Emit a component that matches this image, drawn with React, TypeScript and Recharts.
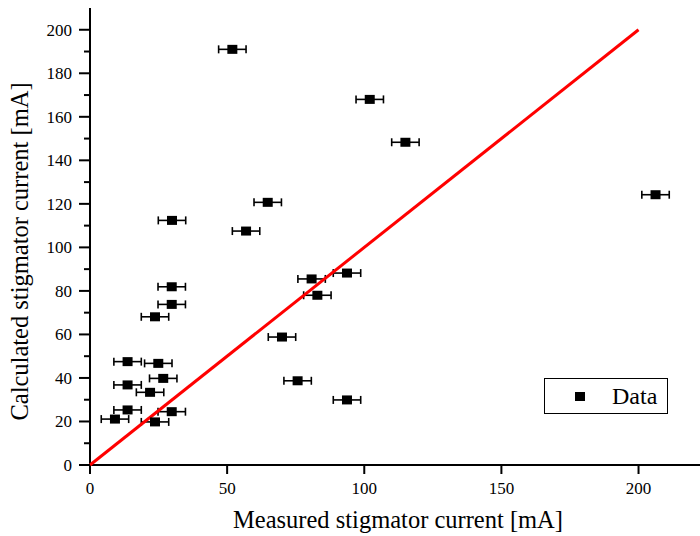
import {
  ScatterChart,
  Scatter,
  XAxis,
  YAxis,
  ErrorBar,
  Legend,
} from 'recharts';

const measured = [
  51.9, 102.0, 115.0, 206.2, 64.8, 29.9, 56.9, 29.8, 29.8, 23.7, 80.8, 82.9, 93.7,
  70.0, 13.7, 24.9, 13.7, 26.7, 21.9, 75.7, 93.7, 13.7, 9.1, 23.7, 29.8,
];
const calculated = [
  191.0, 168.0, 148.3, 124.2, 120.7, 112.4, 107.5, 81.9, 73.8, 68.1, 85.5, 78.0, 88.2,
  58.8, 47.5, 46.7, 36.8, 39.8, 33.4, 38.7, 29.9, 25.3, 21.1, 19.8, 24.5,
];
const measuredErr = [
  5, 5, 5, 5, 5, 5, 5, 5, 5, 5, 5, 5, 5, 5, 5, 5, 5, 5, 5, 5, 5, 5, 5, 5, 5,
];
const idealX = [0, 200];
const idealY = [0, 200];

const xTicks = [0, 50, 100, 150, 200];
const xTopTicks = [50, 100, 150, 200];
const yTicks = [0, 10, 20, 30, 40, 50, 60, 70, 80, 90, 100, 110, 120, 130, 140, 150, 160, 170, 180, 190, 200];
const yRightTicks = [20, 40, 60, 80, 100, 120, 140, 160, 180, 200];

const points = measured.map((x, i) => ({ x, y: calculated[i], err: measuredErr[i] }));
const ideal = idealX.map((x, i) => ({ x, y: idealY[i] }));

const FONT = '"Liberation Serif", serif';

function LeftTick(props: any) {
  const { x, y, payload } = props;
  const major = payload.value % 20 === 0;
  return (
    <g>
      <line x1={x - (major ? 11 : 6)} x2={x} y1={y} y2={y} stroke="#000" strokeWidth={2} />
      {major && (
        <text x={x - 18} y={y} dy={6} textAnchor="end" fontFamily={FONT} fontSize={17} fill="#000">
          {payload.value}
        </text>
      )}
    </g>
  );
}

function YTitle(props: any) {
  const { viewBox } = props;
  const cy = viewBox.y + viewBox.height / 2 + 15;
  return (
    <text
      x={28}
      y={cy}
      transform={`rotate(-90, 28, ${cy})`}
      textAnchor="middle"
      fontFamily={FONT}
      fontSize={24.5}
      fill="#000"
    >
      Calculated stigmator current [mA]
    </text>
  );
}

function Square(props: any) {
  const { cx, cy } = props;
  return <rect x={cx - 5} y={cy - 4.5} width={10} height={9} fill="#000" />;
}

function DataLegend() {
  return (
    <div
      style={{
        width: 124,
        height: 36,
        boxSizing: 'border-box',
        border: '1px solid #000',
        background: '#fff',
        position: 'relative',
        fontFamily: FONT,
      }}
    >
      <div style={{ position: 'absolute', left: 30, top: 13, width: 10, height: 9, background: '#000' }} />
      <div style={{ position: 'absolute', left: 67, top: 2, fontSize: 24, lineHeight: '30px', color: '#000' }}>Data</div>
    </div>
  );
}

export default function App() {
  return (
    <div style={{ position: 'absolute', left: 0, top: 0, width: 700, height: 536, overflow: 'hidden', background: '#fff' }}>
      <ScatterChart width={710} height={536} margin={{ top: 8, right: 4, bottom: 0, left: 0 }}>
        <XAxis
          type="number"
          dataKey="x"
          domain={[0, 224.6]}
          ticks={xTicks}
          height={71}
          tickSize={9}
          tickMargin={8}
          axisLine={{ stroke: '#000', strokeWidth: 2 }}
          tickLine={{ stroke: '#000', strokeWidth: 2 }}
          tick={{ fill: '#000', fontSize: 17, fontFamily: FONT }}
          label={{
            value: 'Measured stigmator current [mA]',
            position: 'insideBottom',
            offset: 8,
            fill: '#000',
            fontSize: 24.5,
            fontFamily: FONT,
          }}
        />
        <XAxis
          xAxisId="top"
          type="number"
          orientation="top"
          mirror
          domain={[0, 224.6]}
          ticks={xTopTicks}
          height={0}
          tickSize={9}
          tick={false}
          axisLine={{ stroke: '#000', strokeWidth: 2 }}
          tickLine={{ stroke: '#000', strokeWidth: 2 }}
        />
        <YAxis
          type="number"
          dataKey="y"
          domain={[0, 210]}
          ticks={yTicks}
          interval={0}
          width={90}
          tickSize={0}
          tickMargin={0}
          tickLine={false}
          axisLine={{ stroke: '#000', strokeWidth: 2 }}
          tick={<LeftTick />}
          label={<YTitle />}
        />
        <YAxis
          yAxisId="right"
          type="number"
          orientation="right"
          mirror
          domain={[0, 210]}
          ticks={yRightTicks}
          width={0}
          tickSize={9}
          tick={false}
          axisLine={{ stroke: '#000', strokeWidth: 2 }}
          tickLine={{ stroke: '#000', strokeWidth: 2 }}
        />
        <Scatter
          data={ideal}
          shape={() => <g />}
          line={{ stroke: '#ff0000', strokeWidth: 3 }}
          legendType="none"
          isAnimationActive={false}
        />
        <Scatter data={points} name="Data" fill="#000" shape={<Square />} isAnimationActive={false}>
          <ErrorBar dataKey="err" direction="x" width={4} stroke="#000" strokeWidth={1.6} />
        </Scatter>
        <Legend
          layout="vertical"
          align="center"
          verticalAlign="middle"
          content={<DataLegend />}
          wrapperStyle={{ position: 'absolute', left: 544, top: 378, width: 124, height: 36 }}
        />
      </ScatterChart>
    </div>
  );
}
